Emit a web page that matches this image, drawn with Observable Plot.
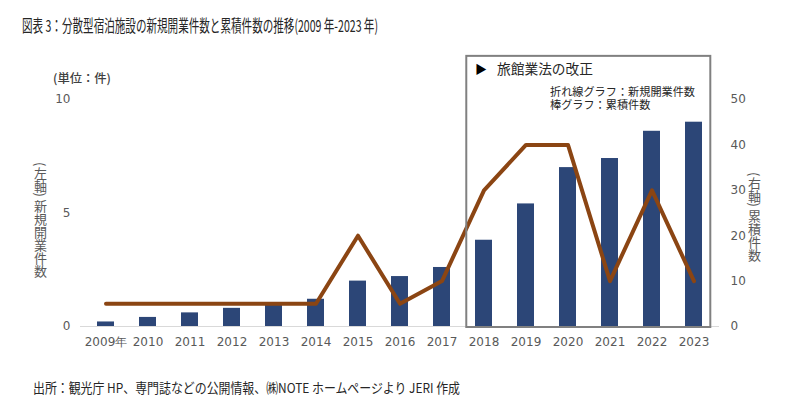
<!DOCTYPE html>
<html><head><meta charset="utf-8">
<script src="https://cdn.jsdelivr.net/npm/d3@7"></script>
<script src="https://cdn.jsdelivr.net/npm/@observablehq/plot@0.6"></script>
<style>
body{margin:0;background:#fff;}
#wrap{position:relative;width:800px;height:413px;font-family:"Noto Sans CJK JP",sans-serif;overflow:hidden;}
#wrap svg{position:absolute;left:0;top:0;}
.t{position:absolute;white-space:nowrap;line-height:1;}
.v{position:absolute;writing-mode:vertical-rl;white-space:nowrap;line-height:1;font-size:13px;color:#595959;}
</style></head><body><div id="wrap"></div>
<script>
const years = ["2009","2010","2011","2012","2013","2014","2015","2016","2017","2018","2019","2020","2021","2022","2023"];
const yearLabels = ["2009年","2010","2011","2012","2013","2014","2015","2016","2017","2018","2019","2020","2021","2022","2023"];
const newOpenings = [1,1,1,1,1,1,4,1,2,6,8,8,2,6,2];
const cumulative = [1,2,3,4,5,6,10,11,13,19,27,35,37,43,45];
const leftTicks = [0,5,10];
const rightTicks = [0,10,20,30,40,50];
const leftMax = 10, rightMax = 50;
const boxYears = ["2018","2023"];
const boxTop = 11.9;

const k = rightMax / leftMax;
const rows = years.map((y,i)=>({year:y, n:newOpenings[i], cum:cumulative[i]}));
const labelOf = Object.fromEntries(years.map((y,i)=>[y, yearLabels[i]]));

function boxMark(index, scales, values, dimensions) {
  const x = scales.x, y = scales.y;
  let bw = 0;
  if (scales.scales && scales.scales.x && scales.scales.x.bandwidth != null) bw = scales.scales.x.bandwidth;
  else if (typeof x.bandwidth === "function") bw = x.bandwidth();
  const step = x(years[1]) - x(years[0]);
  const c1 = x(boxYears[0]) + bw/2, c2 = x(boxYears[1]) + bw/2;
  const x1 = c1 - 0.41*step, x2 = c2 + 0.40*step;
  const y1 = y(boxTop), y2 = y(0) + 1;
  return d3.create("svg:rect")
    .attr("x", x1).attr("y", y1).attr("width", x2-x1).attr("height", y2-y1)
    .attr("fill", "none").attr("stroke", "#808080").attr("stroke-width", 2).node();
}

const chart = Plot.plot({
  width: 800, height: 413,
  marginTop: 99, marginBottom: 87, marginLeft: 80, marginRight: 81,
  style: {fontFamily: "DejaVu Sans, sans-serif", fontSize: "12px", color: "#595959", background: "transparent"},
  x: {domain: years, paddingInner: 0.6, paddingOuter: 0.3, label: null},
  y: {domain: [0, leftMax], label: null},
  marks: [
    Plot.ruleY([0], {stroke: "#d9d9d9", strokeWidth: 1}),
    Plot.barY(rows, {x: "year", y: d => d.cum / k, fill: "#2c4677"}),
    Plot.line(rows, {x: "year", y: "n", stroke: "#8b4513", strokeWidth: 4}),
    boxMark,
    Plot.axisX({tickSize: 0, tickPadding: 11, tickFormat: d => labelOf[d], label: null, fontSize: 12}),
    Plot.axisY(leftTicks, {anchor: "left", tickSize: 0, tickPadding: 10, label: null, fontSize: 12}),
    Plot.axisY(rightTicks.map(d => d / k), {anchor: "right", tickSize: 0, tickPadding: 11, tickFormat: d => String(Math.round(d * k)), label: null, fontSize: 12})
  ]
});

const wrap = document.getElementById("wrap");
wrap.appendChild(chart);

function addText(txt, left, top, size, color, targetWidth, weight, html) {
  const el = document.createElement("div");
  el.className = "t";
  if (html) el.innerHTML = txt; else el.textContent = txt;
  el.style.left = left + "px";
  el.style.top = top + "px";
  el.style.fontSize = size + "px";
  el.style.color = color;
  if (weight) el.style.fontWeight = weight;
  wrap.appendChild(el);
  if (targetWidth) {
    const w = el.getBoundingClientRect().width;
    el.style.transformOrigin = "0 0";
    el.style.transform = `scaleX(${targetWidth / w})`;
  }
  return el;
}
addText("図表 3：分散型宿泊施設の新規開業件数と累積件数の推移(2009 年-2023 年)", 22, 16.5, 16.5, "#262626", 356);
addText("出所：観光庁 HP、専門誌などの公開情報、㈱NOTE ホームページより JERI 作成", 33, 381, 13.5, "#262626", 427);
addText("(単位：件)", 53, 72, 12, "#404040", 58, 500);
addText("▶", 475, 63, 12, "#000000");
addText("旅館業法の改正", 497, 62, 13.5, "#262626", 96);
const legendBlock = addText("折れ線グラフ：新規開業件数<br>棒グラフ：累積件数", 550, 84.5, 11.5, "#262626", 145, null, true);
legendBlock.style.lineHeight = "13px";
legendBlock.style.transform = "";
legendBlock.style.transform = `scaleX(${145 / legendBlock.getBoundingClientRect().width})`;

const vl = document.createElement("div");
vl.className = "v"; vl.textContent = "(左軸) 新規開業件数";
vl.style.left = "34px"; vl.style.top = "162px";
wrap.appendChild(vl);
const vr = document.createElement("div");
vr.className = "v"; vr.textContent = "(右軸) 累積件数";
vr.style.left = "748px"; vr.style.top = "172px";
wrap.appendChild(vr);
</script></body></html>
